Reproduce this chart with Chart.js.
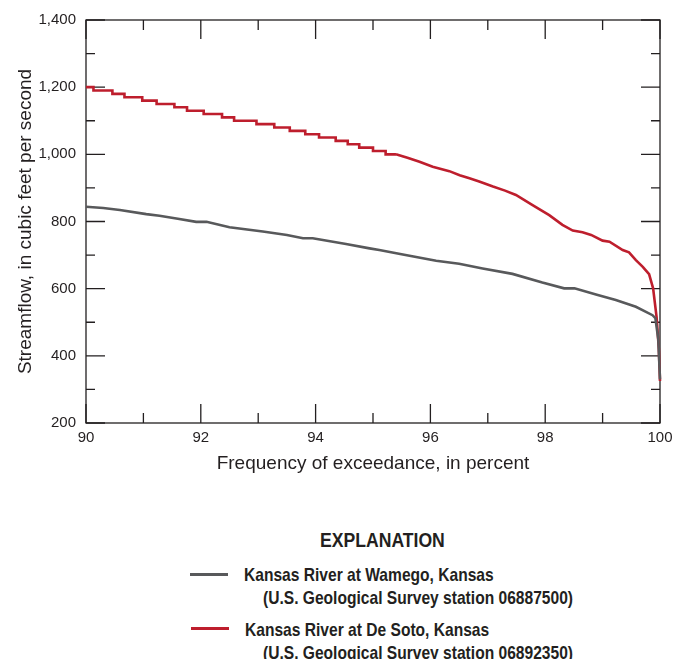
<!DOCTYPE html>
<html>
<head>
<meta charset="utf-8">
<script src="https://cdn.jsdelivr.net/npm/chart.js@4/dist/chart.umd.min.js"></script>
<style>
  body { margin: 0; background: #fff; }
  #wrap { position: relative; width: 684px; height: 659px; overflow: hidden; }
  #flow-chart { position: absolute; left: 0; top: 0; }
  .lg { position: absolute; font-family: 'Liberation Sans', Arial, sans-serif; font-weight: bold; color: #231f20; white-space: nowrap; font-size: 19px; line-height: 1; transform: scaleX(0.82); transform-origin: left center; }
  .sw { position: absolute; height: 3px; width: 38px; }
</style>
</head>
<body>
<div id="wrap">
  <canvas id="flow-chart" width="684" height="480"></canvas>
  <div class="lg" style="left:320px; top:530px; font-size:20px; transform: scaleX(0.88);">EXPLANATION</div>
  <div class="sw" style="left:190px; top:573px; background:#58595b;"></div>
  <div class="lg" style="left:244px; top:565px;">Kansas River at Wamego, Kansas</div>
  <div class="lg" style="left:263px; top:588px;">(U.S. Geological Survey station 06887500)</div>
  <div class="sw" style="left:191px; top:627px; background:#be1e2d;"></div>
  <div class="lg" style="left:245px; top:620px;">Kansas River at De Soto, Kansas</div>
  <div class="lg" style="left:263px; top:643px;">(U.S. Geological Survey station 06892350)</div>
</div>
<script>
// Kansas River at Wamego (gray)
const wamegoPct  = [90, 90.3, 90.59, 91.05, 91.28, 91.6, 91.92, 92.1, 92.5, 93.08, 93.5, 93.78, 93.95, 94.53, 94.94, 95.11, 95.52, 96.1, 96.5, 96.91, 97.43, 97.95, 98.33, 98.51, 98.9, 99.23, 99.58, 99.87, 99.92, 99.97, 100];
const wamegoFlow = [844, 840, 834, 822, 817, 808, 799, 799, 783, 770, 760, 750, 750, 733, 720, 715, 702, 683, 674, 660, 644, 618, 601, 601, 582, 566, 546, 521, 512, 450, 330];

// Kansas River at De Soto (red): stepped upper part, then smooth tail
const desotoStepPct  = [90, 90.13, 90.46, 90.67, 90.98, 91.23, 91.54, 91.76, 92.05, 92.37, 92.58, 92.97, 93.28, 93.55, 93.82, 94.06, 94.35, 94.56, 94.76, 95.0, 95.22, 95.4];
const desotoStepFlow = [1200, 1190, 1180, 1170, 1160, 1150, 1140, 1130, 1120, 1110, 1100, 1090, 1080, 1070, 1060, 1050, 1040, 1030, 1020, 1010, 1000, 1000];
const desotoPct  = [95.4, 95.6, 95.81, 96.04, 96.33, 96.51, 96.68, 96.85, 97.09, 97.3, 97.49, 97.78, 98.07, 98.3, 98.48, 98.65, 98.8, 99.0, 99.12, 99.35, 99.46, 99.58, 99.7, 99.81, 99.88, 99.94, 99.98, 100];
const desotoFlow = [1000, 990, 978, 963, 950, 938, 929, 919, 904, 892, 879, 849, 819, 790, 773, 768, 760, 743, 740, 715, 708, 685, 665, 643, 601, 516, 420, 325];

// axis ticks
const xMajor = [90, 92, 94, 96, 98, 100];
const xMinor = [91, 93, 95, 97, 99];
const yMajor = [200, 400, 600, 800, 1000, 1200, 1400];
const yMinor = [300, 500, 700, 900, 1100, 1300];

const pts = (xs, ys) => xs.map((x, i) => ({ x: x, y: ys[i] }));

const ink = '#231f20';
const red = '#be1e2d';
const gray = '#58595b';

// box frame with inward ticks on all four sides
const frameTicks = {
  id: 'frameTicks',
  beforeDatasetsDraw(chart) {
    const { ctx, chartArea: a, scales: { x, y } } = chart;
    ctx.save();
    ctx.strokeStyle = ink;
    ctx.lineWidth = 1.3;
    ctx.strokeRect(a.left, a.top, a.right - a.left, a.bottom - a.top);
    ctx.beginPath();
    const xt = (v, len) => {
      const px = x.getPixelForValue(v);
      ctx.moveTo(px, a.bottom); ctx.lineTo(px, a.bottom - len);
      ctx.moveTo(px, a.top); ctx.lineTo(px, a.top + len);
    };
    const yt = (v, len) => {
      const py = y.getPixelForValue(v);
      ctx.moveTo(a.left, py); ctx.lineTo(a.left + len, py);
      ctx.moveTo(a.right, py); ctx.lineTo(a.right - len, py);
    };
    xMajor.forEach(v => xt(v, 19));
    xMinor.forEach(v => xt(v, 10));
    yMajor.forEach(v => yt(v, 19));
    yMinor.forEach(v => yt(v, 9));
    ctx.stroke();
    ctx.restore();
  }
};

const tickFont = { family: "'Liberation Sans', Arial, sans-serif", size: 15 };
const titleFont = { family: "'Liberation Sans', Arial, sans-serif", size: 19 };

const ctx = document.getElementById('flow-chart').getContext('2d');
const chart = new Chart(ctx, {
  type: 'line',
  plugins: [frameTicks],
  data: {
    datasets: [
      { data: pts(wamegoPct, wamegoFlow), borderColor: gray, borderWidth: 2.6 },
      { data: pts(desotoStepPct, desotoStepFlow), borderColor: red, borderWidth: 2.6, stepped: 'before' },
      { data: pts(desotoPct, desotoFlow), borderColor: red, borderWidth: 2.6 }
    ]
  },
  options: {
    responsive: false,
    animation: false,
    events: [],
    layout: { padding: { left: 0, right: 24, top: 20, bottom: 0 } },
    elements: { point: { radius: 0 }, line: { tension: 0, fill: false } },
    datasets: { line: { clip: 4 } },
    plugins: { legend: { display: false }, tooltip: { enabled: false } },
    scales: {
      x: {
        type: 'linear', min: 90, max: 100,
        afterFit: s => { s.height = 57; },
        grid: { display: false, drawTicks: false },
        border: { display: false },
        ticks: { stepSize: 2, padding: 6, color: ink, font: tickFont, maxRotation: 0 },
        title: { display: true, text: 'Frequency of exceedance, in percent', color: ink, font: titleFont, padding: { top: 0, bottom: 5 } }
      },
      y: {
        type: 'linear', min: 200, max: 1400,
        afterFit: s => { s.width = 86; },
        grid: { display: false, drawTicks: false },
        border: { display: false },
        ticks: { stepSize: 200, padding: 10, color: ink, font: tickFont, callback: v => v.toLocaleString('en-US') },
        title: { display: true, text: 'Streamflow, in cubic feet per second', color: ink, font: titleFont, padding: { top: 14, bottom: 0 } }
      }
    }
  }
});
</script>
</body>
</html>
